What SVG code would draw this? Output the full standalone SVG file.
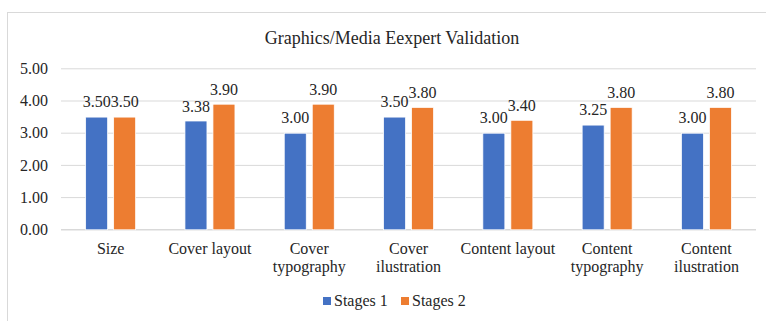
<svg xmlns="http://www.w3.org/2000/svg" width="766" height="321" viewBox="0 0 766 321">
<style>
text{font-family:"Liberation Serif","Times New Roman",serif;fill:#262626}
.t{font-size:18px;text-anchor:middle}
.ax{font-size:16px;text-anchor:end}
.v{font-size:16px;text-anchor:middle}
.c{font-size:16px;text-anchor:middle}
.lg{font-size:16px}
.grid{stroke:#D9D9D9;stroke-width:1}
.s1{fill:#4472C4;stroke:#fff;stroke-width:0.75}
.s2{fill:#ED7D31;stroke:#fff;stroke-width:0.75}
</style>
<rect x="0" y="0" width="766" height="321" fill="#fff"/>
<rect x="7.5" y="12.5" width="790" height="340" fill="#fff" stroke="#D9D9D9" stroke-width="1"/>
<text class="t" x="392" y="44">Graphics/Media Eexpert Validation</text>
<g id="axis">
<line class="grid" x1="61" y1="68.8" x2="756" y2="68.8"/>
<line class="grid" x1="61" y1="101" x2="756" y2="101"/>
<line class="grid" x1="61" y1="133.2" x2="756" y2="133.2"/>
<line class="grid" x1="61" y1="165.4" x2="756" y2="165.4"/>
<line class="grid" x1="61" y1="197.6" x2="756" y2="197.6"/>
<line x1="61" y1="229.8" x2="756" y2="229.8" stroke="#D9D9D9" stroke-width="1.5"/>
<text class="ax" x="48" y="74">5.00</text>
<text class="ax" x="48" y="106.2">4.00</text>
<text class="ax" x="48" y="138.4">3.00</text>
<text class="ax" x="48" y="170.6">2.00</text>
<text class="ax" x="48" y="202.8">1.00</text>
<text class="ax" x="48" y="235">0.00</text>
</g>
<g id="cat-size">
<rect class="s1" x="85.65" y="117.1" width="22" height="112.7"/>
<rect class="s2" x="113.65" y="117.1" width="22" height="112.7"/>
<text class="v" x="96.65" y="107">3.50</text>
<text class="v" x="124.65" y="107">3.50</text>
<text class="c" x="110.65" y="254">Size</text>
</g>
<g id="cat-cover-layout">
<rect class="s1" x="184.95" y="121" width="22" height="108.8"/>
<rect class="s2" x="212.95" y="104.2" width="22" height="125.6"/>
<text class="v" x="195.95" y="111.5">3.38</text>
<text class="v" x="223.95" y="94.5">3.90</text>
<text class="c" x="209.95" y="254">Cover layout</text>
</g>
<g id="cat-cover-typography">
<rect class="s1" x="284.25" y="133.2" width="22" height="96.6"/>
<rect class="s2" x="312.25" y="104.2" width="22" height="125.6"/>
<text class="v" x="295.25" y="123">3.00</text>
<text class="v" x="323.25" y="94.5">3.90</text>
<text class="c" x="309.25" y="254">Cover</text>
<text class="c" x="309.25" y="272">typography</text>
</g>
<g id="cat-cover-ilustration">
<rect class="s1" x="383.55" y="117.1" width="22" height="112.7"/>
<rect class="s2" x="411.55" y="107.4" width="22" height="122.4"/>
<text class="v" x="394.55" y="107">3.50</text>
<text class="v" x="422.55" y="97.5">3.80</text>
<text class="c" x="408.55" y="254">Cover</text>
<text class="c" x="408.55" y="272">ilustration</text>
</g>
<g id="cat-content-layout">
<rect class="s1" x="482.85" y="133.2" width="22" height="96.6"/>
<rect class="s2" x="510.85" y="120.3" width="22" height="109.5"/>
<text class="v" x="493.85" y="123">3.00</text>
<text class="v" x="521.85" y="110.5">3.40</text>
<text class="c" x="507.85" y="254">Content layout</text>
</g>
<g id="cat-content-typography">
<rect class="s1" x="582.15" y="125.1" width="22" height="104.7"/>
<rect class="s2" x="610.15" y="107.4" width="22" height="122.4"/>
<text class="v" x="593.15" y="114.5">3.25</text>
<text class="v" x="621.15" y="97.5">3.80</text>
<text class="c" x="607.15" y="254">Content</text>
<text class="c" x="607.15" y="272">typography</text>
</g>
<g id="cat-content-ilustration">
<rect class="s1" x="681.45" y="133.2" width="22" height="96.6"/>
<rect class="s2" x="709.45" y="107.4" width="22" height="122.4"/>
<text class="v" x="692.45" y="123">3.00</text>
<text class="v" x="720.45" y="97.5">3.80</text>
<text class="c" x="706.45" y="254">Content</text>
<text class="c" x="706.45" y="272">ilustration</text>
</g>
<g id="legend">
<rect x="323" y="297" width="8" height="8" fill="#4472C4"/>
<text class="lg" x="334" y="306">Stages 1</text>
<rect x="401" y="297" width="8" height="8" fill="#ED7D31"/>
<text class="lg" x="412" y="306">Stages 2</text>
</g>
</svg>
